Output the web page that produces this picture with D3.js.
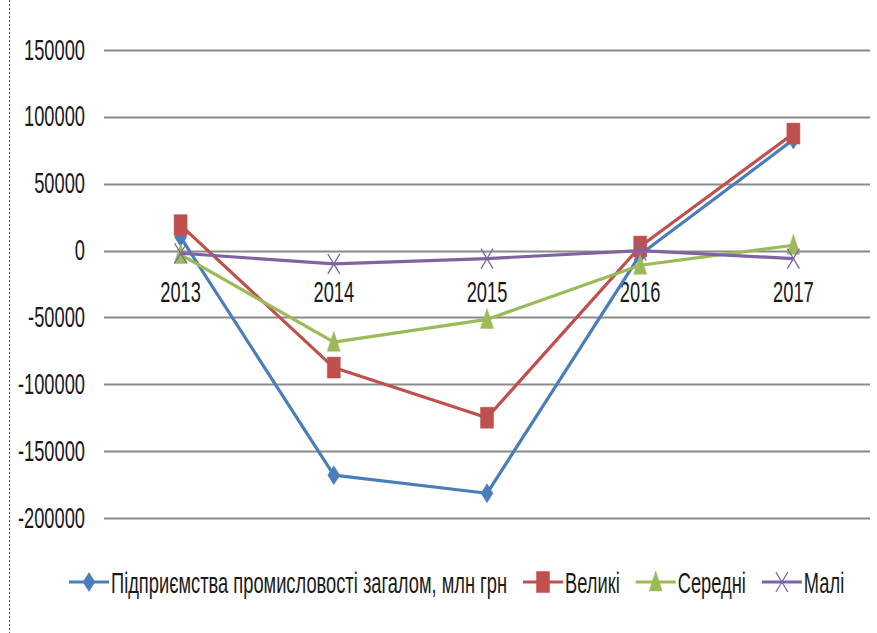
<!DOCTYPE html>
<html>
<head>
<meta charset="utf-8">
<script src="https://d3js.org/d3.v7.min.js"></script>
<style>
  body { margin: 0; background: #fff; }
  svg text { font-family: "Liberation Sans", Arial, sans-serif; fill: #1a1a1a; }
</style>
</head>
<body>
<svg id="chart" width="877" height="633"></svg>
<script>
// years and values (млн грн)
var years = ["2013", "2014", "2015", "2016", "2017"];
var totalVals = [10000, -168000, -181500, -3000, 83000];
var largeVals = [19000, -87500, -125000, 3000, 87500];
var mediumVals = [-3000, -68500, -51500, -11000, 4000];
var smallVals = [-2000, -10000, -6000, 0, -6000];
var yTicks = [150000, 100000, 50000, 0, -50000, -100000, -150000, -200000];
var seriesNames = ["Підприємства промисловості загалом, млн грн", "Великі", "Середні", "Малі"];
var seriesColors = ["#4a7ebb", "#c0504d", "#9bbb59", "#8064a2"];
var seriesShapes = ["diamond", "square", "triangle", "cross"];

var series = [totalVals, largeVals, mediumVals, smallVals].map(function(v, i) {
    return { name: seriesNames[i], color: seriesColors[i], shape: seriesShapes[i], values: v };
});

var svg = d3.select("#chart");
var sx = 0.61; // text in the picture is squeezed horizontally
var fs = 30;

var x = d3.scaleBand().domain(years).range([104, 870]);
var y = d3.scaleLinear().domain([-200000, 150000]).range([518, 50]);
var cx = function(d) { return x(d) + x.bandwidth() / 2; };

// dotted frame on the left
svg.append("line").attr("x1", 9.5).attr("x2", 9.5).attr("y1", 0).attr("y2", 633)
    .attr("stroke", "#555").attr("stroke-width", 1).attr("stroke-dasharray", "2,2");

// gridlines
svg.append("g").selectAll("line").data(yTicks).join("line")
    .attr("x1", 104).attr("x2", 870)
    .attr("y1", function(d) { return Math.round(y(d)) + 0.5; })
    .attr("y2", function(d) { return Math.round(y(d)) + 0.5; })
    .attr("stroke", "#8a8a8a").attr("stroke-width", 2);

// y tick labels
svg.append("g").selectAll("text").data(yTicks).join("text")
    .attr("transform", function(d) { return "translate(85," + (y(d) + 9.5) + ") scale(" + sx + ",1)"; })
    .attr("text-anchor", "end").attr("font-size", fs)
    .text(function(d) { return d; });

// category labels under the zero line
svg.append("g").selectAll("text").data(years).join("text")
    .attr("transform", function(d) { return "translate(" + cx(d) + "," + (y(0) + 51) + ") scale(" + sx + ",1)"; })
    .attr("text-anchor", "middle").attr("font-size", fs)
    .text(function(d) { return d; });

function markerPath(shape) {
    if (shape == "diamond") return "M0,-9.5L6,0L0,9.5L-6,0Z";
    if (shape == "square") return "M-6.5,-10.5H6.5V10.5H-6.5Z";
    if (shape == "triangle") return "M0,-11L6.5,9H-6.5Z";
    return "M-6,-10L6,10M6,-10L-6,10";
}
function drawMarker(g, shape, color) {
    var p = g.append("path").attr("d", markerPath(shape));
    if (shape == "cross") p.attr("fill", "none").attr("stroke", color).attr("stroke-width", 1.3);
    else p.attr("fill", color).attr("stroke", color).attr("stroke-width", 0.5);
}

var line = d3.line()
    .x(function(d, i) { return cx(years[i]); })
    .y(function(d) { return y(d); });

series.forEach(function(s) {
    var g = svg.append("g");
    g.append("path").attr("d", line(s.values))
        .attr("fill", "none").attr("stroke", s.color).attr("stroke-width", 3.2)
        .attr("stroke-linejoin", "round");
    s.values.forEach(function(v, i) {
        var m = g.append("g").attr("transform", "translate(" + cx(years[i]) + "," + y(v) + ")");
        drawMarker(m, s.shape, s.color);
    });
});

// legend
var lg = svg.append("g");
var lx = 69, ly = 582;
series.forEach(function(s) {
    var item = lg.append("g").attr("transform", "translate(" + lx + "," + ly + ")");
    item.append("line").attr("x1", 0).attr("x2", 40).attr("stroke", s.color).attr("stroke-width", 3.2);
    var m = item.append("g").attr("transform", "translate(20,0)");
    drawMarker(m, s.shape, s.color);
    var t = item.append("text").attr("transform", "translate(42,10.5) scale(" + sx + ",1)")
        .attr("font-size", fs).text(s.name);
    lx += 42 + t.node().getComputedTextLength() * sx + 16;
});
</script>
</body>
</html>
